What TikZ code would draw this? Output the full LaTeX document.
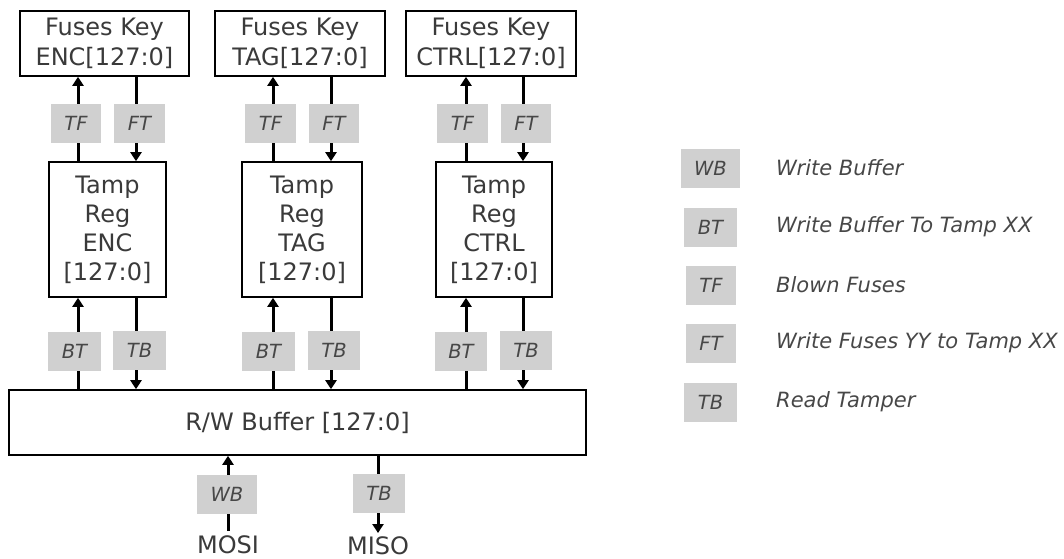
\documentclass[tikz,border=0pt]{standalone}
\usepackage{fontspec}
\setmainfont{DejaVu Sans}
\usetikzlibrary{arrows.meta}
\definecolor{txt}{HTML}{3A3A3A}
\definecolor{lblfill}{HTML}{D0D0D0}
\definecolor{lbltxt}{HTML}{474747}
\tikzset{
  blk/.style={draw=black, line width=1.6pt, fill=white, text=txt, align=center,
    font=\fontsize{24}{30.5}\selectfont, inner sep=0pt},
  lbl/.style={fill=lblfill, text=lbltxt, inner xsep=13.5pt, inner ysep=0pt,
    minimum height=39pt, font=\fontsize{19.5}{22}\selectfont\itshape},
  lgd/.style={text=lbltxt, anchor=west, inner sep=0pt, font=\fontsize{21}{24}\selectfont\itshape},
  sig/.style={line width=3pt, -{Triangle[width=11pt,length=9pt]}},
  pin/.style={text=txt, inner sep=0pt, font=\fontsize{24}{28}\selectfont, anchor=base},
}
\begin{document}
\begin{tikzpicture}[x=1pt,y=-1pt]
\useasboundingbox (0,0) rectangle (1064,558);
% blocks
\node[blk, minimum width=169pt, minimum height=65pt] (fk1) at (104.5,43.5) {Fuses Key\\ENC[127:0]};
\node[blk, minimum width=170pt, minimum height=65pt] (fk2) at (300,43.5) {Fuses Key\\TAG[127:0]};
\node[blk, minimum width=170pt, minimum height=65pt] (fk3) at (491,43.5) {Fuses Key\\CTRL[127:0]};
\node[blk, minimum width=117pt, minimum height=135pt, font=\fontsize{24}{29}\selectfont] (tr1) at (107.5,229.5) {Tamp\\Reg\\ENC\\{}[127:0]};
\node[blk, minimum width=120pt, minimum height=135pt, font=\fontsize{24}{29}\selectfont] (tr2) at (302,229.5) {Tamp\\Reg\\TAG\\{}[127:0]};
\node[blk, minimum width=116pt, minimum height=135pt, font=\fontsize{24}{29}\selectfont] (tr3) at (494,229.5) {Tamp\\Reg\\CTRL\\{}[127:0]};
\node[blk, minimum width=577pt, minimum height=65pt] (buf) at (297.5,422.5) {R/W Buffer [127:0]};
\node[pin] (mosi) at (228,553) {MOSI};
\node[pin] (miso) at (378,554) {MISO};
% column x positions
\coordinate (a1) at (78,0);  \coordinate (b1) at (136,0);
\coordinate (a2) at (273,0); \coordinate (b2) at (331,0);
\coordinate (a3) at (466,0); \coordinate (b3) at (523,0);
\coordinate (mb) at (228,531);
\coordinate (ms) at (378,533);
% connectors
\foreach \i in {1,2,3}{
  \draw[sig] (tr\i.north -| a\i) -- (fk\i.south -| a\i);
  \draw[sig] (fk\i.south -| b\i) -- (tr\i.north -| b\i);
  \draw[sig] (buf.north -| a\i) -- (tr\i.south -| a\i);
  \draw[sig] (tr\i.south -| b\i) -- (buf.north -| b\i);
}
\draw[sig] (mb) -- (buf.south -| mb);
\draw[sig] (buf.south -| ms) -- (ms);
% labels on connectors
\node[lbl] (tf1) at (76,123.5) {TF};
\node[lbl] (ft1) at (139.5,123.5) {FT};
\node[lbl] (bt1) at (74.5,351) {BT};
\node[lbl] (tb1) at (139.5,350.5) {TB};
\node[lbl] (tf2) at (270.5,123.5) {TF};
\node[lbl] (ft2) at (334,123.5) {FT};
\node[lbl] (bt2) at (268.5,351) {BT};
\node[lbl] (tb2) at (334,350.5) {TB};
\node[lbl] (tf3) at (462.5,123.5) {TF};
\node[lbl] (ft3) at (526,123.5) {FT};
\node[lbl] (bt3) at (461,351) {BT};
\node[lbl] (tb3) at (526,350.5) {TB};
\node[lbl] (wbm) at (227,494) {WB};
\node[lbl] (tbm) at (379,493.5) {TB};
% legend
\node[lbl] (lwb) at (710.5,168) {WB};
\node[lbl] (lbt) at (710.5,227) {BT};
\node[lbl] (ltf) at (711,285) {TF};
\node[lbl] (lft) at (711,343) {FT};
\node[lbl] (ltb) at (710.5,402) {TB};
\node[lgd] (twb) at (776,168) {Write Buffer};
\node[lgd] (tbt) at (776,227) {Write Buffer To Tamp XX};
\node[lgd] (ttf) at (776,285) {Blown Fuses};
\node[lgd] (tft) at (776,343) {Write Fuses YY to Tamp XX};
\node[lgd] (ttb) at (776,402) {Read Tamper};
\end{tikzpicture}
\end{document}
